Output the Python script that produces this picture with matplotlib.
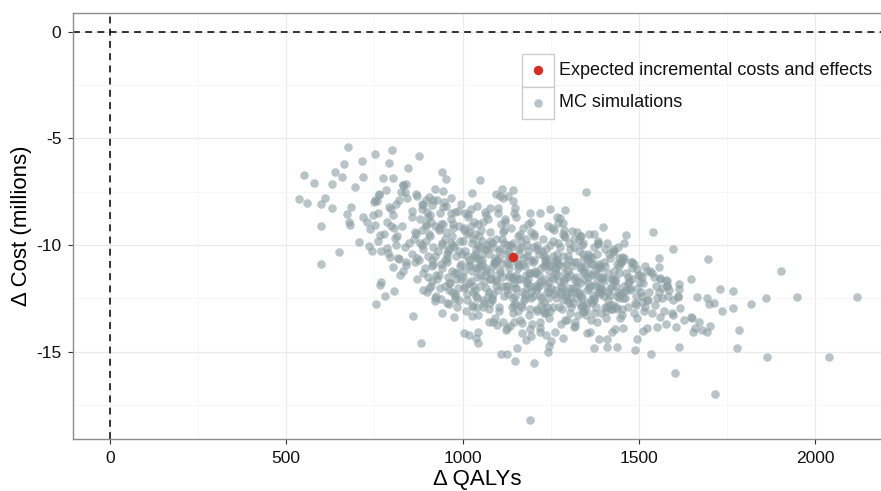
import matplotlib
matplotlib.use("Agg")
import matplotlib.pyplot as plt
from matplotlib.patches import Rectangle
from matplotlib.ticker import MultipleLocator

plt.rcParams['font.family'] = ['Liberation Sans', 'DejaVu Sans']
plt.rcParams['axes.unicode_minus'] = False

# 期望值点
expected_qaly = [1142]
expected_cost = [-10.56]

# 稀疏区域的模拟点
edge_qaly = [
    675, 752, 801, 715, 665, 792, 845, 638, 550, 659, 718, 775, 804, 578, 630, 695, 832, 877,
    536, 560, 610, 599, 631, 684, 671, 764, 757, 750, 759, 796, 599, 679, 680, 718, 730, 752,
    738, 706, 650, 600, 734, 743, 766, 785, 788, 794, 809, 821, 804, 768, 823, 840,
    756, 779, 806, 766, 859, 882,
    1192, 1204, 1150, 1127, 1110, 1155, 1043, 1038, 1005, 1018, 1043, 975, 943, 922, 939, 962,
    979, 1028, 1074, 1097, 1123, 1168, 1180, 1194, 1190, 1220, 1237, 1242, 1246, 1251, 1262,
    1146, 1168, 1114, 1125, 1210, 1231, 887, 906,
    1603, 1535, 1489, 1439, 1410, 1372, 1388, 1410, 1494, 1615, 1284, 1315, 1354, 1362, 1423,
    1433, 1456, 1511, 1524, 1551, 1578, 1606, 1627, 1653, 1660, 1296, 1343, 1381, 1447, 1494,
    1560, 1597, 1650, 1617, 1664, 1612, 1583, 1530, 1475, 1508, 1456, 1418, 1371, 1390, 1324,
    1296, 1352,
    2118, 2040, 1948, 1902, 1862, 1865, 1818, 1784, 1778, 1768, 1768, 1735, 1716, 1729, 1712,
    1700, 1693, 1702, 1693, 1678, 1697, 1648, 1647, 1671, 1598, 1539, 1558, 1556, 1579, 1579,
    1614, 1614, 1350, 1398, 1463, 1458,
    1291, 1374, 1310, 1333, 1331, 1291, 1277, 1284, 1409, 1385, 1577, 1560, 1524, 1494, 1480,
    1452, 1428, 1508, 1537, 1504,
    943, 953, 1050, 1026, 967, 922, 944, 1111, 1142, 1130, 1106, 1095, 1116, 1144, 906, 916,
    913, 889, 900, 1149, 1146, 1190, 1220, 1248, 1267, 1040, 1078, 1102, 979, 952, 1016, 1064,
    830, 841, 837, 870, 1272,
]
edge_cost = [
    -5.41, -5.75, -5.56, -6.05, -6.19, -6.16, -6.41, -6.56, -6.73, -6.80, -6.80, -6.88, -6.88, -7.09, -7.14, -7.28, -7.19, -5.81,
    -7.83, -8.05, -7.78, -8.09, -8.25, -8.22, -8.56, -7.66, -7.92, -7.97, -8.48, -8.33, -9.09, -8.94, -9.06, -8.70, -8.94, -9.06,
    -9.27, -9.87, -10.31, -10.88, -10.05, -10.28, -9.53, -10.16, -10.39, -10.55, -9.69, -10.67, -11.02, -11.72, -11.41, -10.94,
    -12.75, -12.41, -12.14, -11.87, -13.33, -14.61,
    -18.22, -15.53, -15.42, -15.10, -15.13, -14.83, -14.58, -14.38, -14.11, -14.22, -14.06, -13.39, -13.19, -12.61, -12.53, -12.78,
    -12.53, -13.31, -13.62, -13.75, -13.98, -14.11, -14.45, -14.27, -13.95, -14.06, -14.22, -15.00, -14.74, -14.48, -14.09,
    -13.62, -13.67, -13.59, -13.91, -13.10, -13.20, -12.11, -12.00,
    -16.01, -15.10, -14.94, -14.80, -14.80, -14.81, -14.41, -14.41, -14.42, -14.77, -14.37, -13.83, -14.14, -14.06, -14.06,
    -13.94, -13.88, -14.03, -13.88, -13.83, -13.72, -13.83, -13.52, -14.06, -13.91, -13.52, -13.13, -13.59, -13.44, -13.44,
    -13.36, -13.28, -13.44, -12.97, -12.42, -12.42, -12.38, -12.22, -12.11, -12.66, -12.50, -12.34, -12.34, -12.19, -12.50,
    -12.19, -12.73,
    -12.42, -15.25, -12.42, -11.20, -12.50, -15.27, -12.77, -14.00, -14.81, -12.14, -12.97, -13.08, -17.00, -12.06, -12.73,
    -12.77, -12.50, -13.80, -14.09, -13.98, -10.67, -11.61, -13.39, -13.62, -10.20, -9.40, -10.59, -11.02, -11.69, -11.92,
    -11.84, -12.08, -7.53, -9.17, -9.55, -9.92,
    -8.36, -9.50, -9.34, -9.56, -9.77, -9.61, -8.75, -8.98, -9.89, -9.97, -11.64, -11.56, -11.22, -11.14, -10.81,
    -10.55, -10.34, -11.49, -11.33, -11.72,
    -6.59, -6.91, -6.95, -7.55, -7.78, -7.38, -7.47, -7.39, -7.42, -7.70, -7.70, -7.62, -7.81, -7.94, -7.74, -7.89,
    -8.12, -8.12, -8.44, -8.28, -8.51, -8.50, -8.51, -8.31, -8.67, -8.17, -8.25, -8.28, -8.44, -8.16, -8.55, -8.47,
    -7.19, -7.16, -7.50, -7.69, -8.95,
]

# 密集核心区域的模拟点（估计）
core_qaly = [
    745, 782, 760, 791, 752, 770, 798, 786, 763, 776,
    805, 842, 818, 856, 831, 811, 849, 826, 838, 815,
    858, 884, 866, 897, 872, 889, 861, 879, 893, 869,
    903, 886, 921, 912, 895, 927, 908, 917, 899, 924,
    905, 931, 946, 914, 938, 922, 943, 911, 935, 949,
    952, 934, 968, 957, 976, 941, 963, 972, 948, 979,
    955, 986, 962, 994, 971, 999, 983, 958, 990, 967,
    973, 1004, 985, 1013, 996, 1019, 978, 1008, 991, 1016,
    1002, 1027, 1011, 1036, 1021, 995, 1031, 1007, 1039, 1024,
    1012, 1044, 1026, 1049, 1033, 1017, 1041, 1029, 1005, 1047,
    1053, 1037, 1062, 1045, 1069, 1024, 1058, 1066, 1050, 1034,
    1042, 1078, 1055, 1086, 1071, 1060, 1089, 1048, 1081, 1074,
    1063, 1096, 1077, 1104, 1085, 1109, 1068, 1092, 1100, 1073,
    1083, 1112, 1094, 1121, 1103, 1128, 1087, 1116, 1098, 1125,
    1105, 1138, 1117, 1146, 1127, 1111, 1142, 1133, 1120, 1149,
    1123, 1157, 1136, 1164, 1143, 1169, 1130, 1152, 1160, 1139,
    1144, 1176, 1155, 1183, 1163, 1189, 1148, 1172, 1180, 1158,
    1162, 1194, 1173, 1203, 1185, 1208, 1167, 1198, 1178, 1191,
    1184, 1216, 1195, 1224, 1206, 1229, 1188, 1212, 1200, 1221,
    1204, 1238, 1217, 1246, 1226, 1210, 1242, 1233, 1219, 1249,
    1223, 1257, 1236, 1264, 1245, 1269, 1230, 1252, 1260, 1240,
    1243, 1276, 1255, 1284, 1265, 1289, 1248, 1272, 1280, 1259,
    1262, 1295, 1274, 1303, 1285, 1309, 1268, 1291, 1299, 1279,
    1283, 1316, 1294, 1324, 1305, 1329, 1288, 1312, 1320, 1300,
    1304, 1337, 1315, 1345, 1326, 1349, 1308, 1333, 1341, 1319,
    1323, 1356, 1335, 1364, 1344, 1369, 1328, 1352, 1360, 1339,
    1343, 1376, 1355, 1384, 1365, 1389, 1348, 1372, 1380, 1359,
    1362, 1396, 1374, 1404, 1385, 1409, 1367, 1392, 1400, 1378,
    1383, 1417, 1394, 1425, 1406, 1429, 1388, 1412, 1420, 1399,
    1404, 1437, 1415, 1445, 1426, 1449, 1408, 1433, 1441, 1419,
    1423, 1456, 1435, 1464, 1444, 1469, 1428, 1452, 1460, 1439,
    1446, 1481, 1458, 1490, 1468, 1497, 1451, 1475, 1486, 1463,
    1473, 1508, 1485, 1519, 1496, 1527, 1479, 1503, 1514, 1491,
    1506, 1542, 1518, 1553, 1531, 1566, 1512, 1537, 1548, 1524,
    1545, 1587, 1561, 1598, 1572, 1611, 1556, 1580, 1593, 1566,
    1008, 1063, 1031, 1087, 1019, 1074, 1046, 1095, 1055, 1038,
    1106, 1161, 1129, 1184, 1117, 1172, 1144, 1193, 1153, 1136,
    1208, 1263, 1231, 1286, 1219, 1274, 1246, 1295, 1255, 1238,
    1306, 1361, 1329, 1384, 1317, 1372, 1344, 1393, 1353, 1336,
    957, 1012, 980, 1036, 968, 1023, 995, 1044, 1004, 987,
    1056, 1111, 1079, 1135, 1067, 1122, 1094, 1143, 1103, 1086,
    1156, 1211, 1179, 1235, 1167, 1222, 1194, 1243, 1203, 1186,
    1256, 1311, 1279, 1335, 1267, 1322, 1294, 1343, 1303, 1286,
    1357, 1412, 1380, 1436, 1368, 1423, 1395, 1444, 1404, 1387,
    885, 940, 908, 963, 896, 951, 923, 971, 932, 914,
    864, 917, 889, 944, 872, 929, 901, 956, 880, 937,
    964, 1018, 989, 1045, 972, 1029, 1001, 1057, 982, 1037,
    1066, 1119, 1091, 1147, 1074, 1131, 1103, 1158, 1083, 1139,
    1165, 1218, 1190, 1246, 1173, 1230, 1202, 1257, 1182, 1238,
    1264, 1317, 1289, 1345, 1272, 1329, 1301, 1356, 1281, 1337,
    1364, 1417, 1389, 1445, 1372, 1429, 1401, 1456, 1381, 1437,
    903, 958, 926, 981, 914, 969, 941, 992, 950, 933,
    1003, 1058, 1026, 1081, 1014, 1069, 1041, 1092, 1050, 1033,
    1102, 1157, 1125, 1180, 1113, 1168, 1140, 1191, 1149, 1132,
    1201, 1256, 1224, 1279, 1212, 1267, 1239, 1290, 1248, 1231,
    1302, 1357, 1325, 1380, 1313, 1368, 1340, 1391, 1349, 1332,
    1402, 1457, 1425, 1480, 1413, 1468, 1440, 1491, 1449, 1432,
    803, 856, 828, 884, 811, 868, 840, 895, 819, 876,
    1054, 1161, 1107, 1218, 1078, 1185, 1131, 1240, 1092, 1203,
    1151, 1263, 1206, 1319, 1177, 1288, 1233, 1342, 1195, 1306,
]
core_cost = [
    -8.6, -7.4, -9.8, -8.2, -7.9, -10.3, -9.1, -8.9, -7.6, -9.5,
    -9.2, -7.8, -10.6, -8.7, -11.2, -8.1, -9.9, -7.5, -10.1, -9.6,
    -8.4, -9.3, -10.8, -7.9, -11.6, -10.2, -9.7, -8.8, -11.1, -7.6,
    -10.5, -8.3, -9.1, -11.9, -9.8, -7.9, -8.6, -10.9, -12.2, -11.4,
    -9.5, -10.3, -8.2, -11.7, -9.0, -12.5, -11.1, -8.9, -12.0, -10.7,
    -9.4, -11.4, -8.5, -12.7, -10.1, -9.9, -11.8, -9.2, -8.0, -12.3,
    -10.8, -8.4, -12.1, -11.0, -9.6, -10.4, -12.9, -11.5, -9.1, -8.8,
    -10.0, -9.3, -11.3, -12.6, -8.1, -10.7, -12.4, -11.9, -10.3, -8.7,
    -9.8, -11.2, -13.1, -9.5, -10.9, -11.6, -12.2, -8.5, -10.2, -8.3,
    -10.5, -9.0, -12.8, -11.4, -8.9, -11.8, -12.5, -9.7, -12.0, -10.1,
    -9.3, -10.6, -11.7, -13.3, -10.0, -9.1, -12.9, -8.6, -11.0, -12.1,
    -11.5, -9.8, -10.4, -12.3, -8.8, -12.7, -10.8, -9.6, -11.3, -13.0,
    -10.2, -11.9, -9.4, -10.6, -12.6, -9.0, -11.1, -13.4, -8.5, -12.4,
    -9.9, -10.9, -11.6, -8.8, -12.9, -10.3, -13.6, -9.4, -10.7, -12.1,
    -11.3, -9.2, -12.4, -11.8, -10.0, -9.7, -13.2, -10.9, -8.9, -12.7,
    -10.4, -11.1, -13.8, -9.5, -11.5, -12.2, -11.9, -8.7, -10.2, -12.9,
    -9.9, -12.5, -10.8, -10.0, -13.5, -11.3, -12.0, -9.2, -11.7, -13.1,
    -11.6, -9.4, -12.6, -10.7, -9.0, -12.1, -10.1, -13.7, -11.0, -11.9,
    -10.5, -11.4, -8.9, -12.8, -11.2, -9.7, -13.3, -10.2, -12.4, -13.9,
    -9.6, -10.8, -11.9, -12.2, -10.3, -13.0, -9.1, -11.6, -13.6, -10.0,
    -12.5, -9.8, -10.6, -11.3, -13.4, -10.4, -11.0, -12.0, -9.3, -12.9,
    -11.8, -10.1, -9.2, -12.6, -11.1, -9.6, -13.1, -10.9, -13.7, -12.3,
    -10.7, -11.5, -12.9, -9.9, -9.5, -12.2, -11.4, -13.5, -10.5, -11.9,
    -12.0, -9.7, -10.9, -11.7, -13.2, -10.3, -9.3, -12.7, -13.8, -11.2,
    -10.2, -12.4, -11.6, -10.6, -9.4, -13.0, -12.9, -11.1, -9.9, -13.6,
    -11.9, -10.4, -9.6, -12.6, -11.3, -10.9, -13.3, -12.1, -9.5, -10.0,
    -12.8, -11.2, -10.7, -9.8, -13.5, -12.3, -11.0, -10.1, -11.8, -12.0,
    -10.5, -11.6, -12.5, -10.2, -9.9, -12.9, -11.4, -13.2, -10.8, -11.9,
    -12.2, -10.6, -11.1, -11.9, -13.4, -10.3, -10.9, -12.6, -13.0, -11.5,
    -11.0, -12.4, -10.4, -11.3, -12.8, -10.8, -13.1, -11.7, -10.1, -12.0,
    -11.6, -10.7, -12.9, -12.1, -11.0, -11.5, -10.2, -13.3, -12.5, -10.9,
    -12.3, -11.1, -10.6, -12.7, -11.8, -11.4, -13.0, -12.0, -10.9, -11.3,
    -11.7, -12.4, -13.2, -11.0, -12.0, -12.6, -10.8, -11.4, -13.1, -12.8,
    -12.2, -11.5, -12.9, -12.5, -11.2, -12.0, -11.8, -13.2, -11.9, -12.6,
    -12.8, -12.1, -11.6, -12.6, -13.1, -12.4, -12.2, -11.9, -13.2, -12.5,
    -10.3, -11.4, -11.9, -10.1, -11.0, -12.2, -10.7, -11.7, -9.8, -12.4,
    -11.2, -10.4, -12.3, -11.8, -9.9, -10.9, -11.6, -12.5, -12.0, -10.6,
    -11.3, -12.1, -10.5, -11.0, -12.4, -11.7, -10.9, -12.6, -11.5, -10.2,
    -11.4, -11.9, -12.3, -11.1, -10.8, -12.6, -11.6, -12.0, -10.6, -12.9,
    -10.6, -9.5, -11.3, -10.4, -9.9, -11.7, -10.9, -11.1, -9.2, -12.0,
    -10.7, -11.5, -12.7, -10.0, -11.2, -11.9, -9.7, -12.5, -10.3, -11.0,
    -10.9, -12.0, -11.4, -10.7, -12.8, -11.1, -12.2, -12.5, -10.1, -11.6,
    -11.6, -11.0, -12.2, -12.8, -10.8, -11.5, -12.4, -11.2, -12.0, -10.5,
    -11.8, -12.2, -11.4, -11.9, -12.7, -11.6, -12.1, -12.5, -12.9, -11.0,
    -10.0, -10.9, -9.6, -10.2, -9.1, -9.7, -10.5, -11.2, -9.3, -11.0,
    -9.4, -10.1, -11.3, -9.0, -10.6, -11.6, -8.7, -10.4, -9.9, -8.5,
    -11.8, -9.4, -12.6, -10.0, -9.0, -12.9, -11.5, -8.9, -10.5, -11.1,
    -12.0, -9.3, -10.9, -12.8, -10.4, -11.4, -13.1, -9.6, -12.5, -10.1,
    -9.8, -11.8, -13.0, -11.2, -10.6, -12.7, -9.5, -10.5, -12.0, -13.2,
    -12.5, -10.1, -11.7, -13.1, -9.9, -12.2, -10.7, -11.5, -13.0, -11.0,
    -10.9, -12.8, -12.0, -10.6, -13.2, -11.2, -11.7, -12.2, -10.4, -13.0,
    -11.5, -10.3, -12.4, -11.6, -10.7, -12.2, -10.0, -9.8, -11.9, -9.2,
    -11.2, -12.6, -9.9, -11.6, -12.3, -10.2, -12.9, -10.8, -11.9, -10.5,
    -12.1, -11.6, -10.8, -9.7, -11.9, -12.9, -10.5, -11.3, -12.4, -11.5,
    -10.8, -12.9, -11.7, -12.3, -10.0, -10.7, -12.2, -11.3, -11.0, -13.1,
    -12.7, -11.3, -10.8, -12.9, -12.0, -10.6, -12.5, -11.5, -13.3, -11.8,
    -12.4, -11.9, -13.0, -11.6, -11.3, -12.9, -12.2, -12.4, -10.8, -11.6,
    -8.6, -10.4, -9.1, -8.1, -10.0, -9.5, -10.8, -9.0, -7.9, -10.7,
    -10.9, -11.0, -10.2, -10.4, -11.6, -10.3, -11.1, -11.9, -10.6, -11.3,
    -11.4, -11.1, -11.9, -12.2, -12.3, -11.6, -10.9, -10.4, -10.7, -12.5,
]

x_ticks = [0, 500, 1000, 1500, 2000]
y_ticks = [0, -5, -10, -15]
legend_labels = ["Expected incremental costs and effects", "MC simulations"]

sim_color = '#8A9DA2'
exp_color = '#D22F24'
W, H = 881, 491

fig = plt.figure(figsize=(W / 100, H / 100), dpi=100)
ax = fig.add_axes([73.3 / W, 1 - 439.3 / H, 1 - 73.3 / W, (439.3 - 12.7) / H])

ax.set_xlim(-104, 2187)
ax.set_ylim(-19.11, 0.89)

ax.xaxis.set_major_locator(MultipleLocator(500))
ax.xaxis.set_minor_locator(MultipleLocator(250))
ax.yaxis.set_major_locator(MultipleLocator(5))
ax.yaxis.set_minor_locator(MultipleLocator(2.5))
ax.set_xticks(x_ticks)
ax.set_yticks(y_ticks)
ax.grid(which='major', color='#EBEBEB', linewidth=0.9)
ax.grid(which='minor', color='#F6F6F6', linewidth=0.7)
ax.set_axisbelow(True)

for side in ['left', 'bottom', 'top']:
    ax.spines[side].set_color('#8C8C8C')
    ax.spines[side].set_linewidth(1.0)
ax.spines['right'].set_visible(False)

ax.tick_params(which='major', direction='out', length=3.5, width=0.8, color='#333333',
               labelsize=12.5, labelcolor='#111111', pad=5)
ax.tick_params(which='minor', length=0)

ax.axhline(0, color='black', linestyle=(0, (4.5, 3.5)), linewidth=1.1, zorder=1.5)
ax.axvline(0, color='black', linestyle=(0, (4.5, 3.5)), linewidth=1.1, zorder=1.5)

ax.scatter(core_qaly, core_cost, s=38, color=sim_color, alpha=0.6, linewidths=0, zorder=2)
ax.scatter(edge_qaly, edge_cost, s=38, color=sim_color, alpha=0.6, linewidths=0, zorder=2)
ax.scatter(expected_qaly, expected_cost, s=46, color=exp_color, linewidths=0, zorder=3)

ax.set_xlabel("Δ QALYs", fontsize=16, labelpad=2)
ax.set_ylabel("Δ Cost (millions)", fontsize=16, labelpad=3)


def fx(px):
    return px / W


def fy(py):
    return 1 - py / H


# 图例（手工绘制，仿 ggplot 样式）
key_left, key_size = 521.7, 32.6
key_tops = [54.0, 86.6]
key_colors = [exp_color, sim_color]
key_alpha = [1.0, 0.6]
key_sizes = [46, 38]
for top, col, alp, sz, lab in zip(key_tops, key_colors, key_alpha, key_sizes, legend_labels):
    fig.add_artist(Rectangle((fx(key_left), fy(top + key_size)), key_size / W, key_size / H,
                             transform=fig.transFigure, facecolor='white',
                             edgecolor='#CCCCCC', linewidth=1.0, zorder=4))
    cx, cy = fx(key_left + key_size / 2), fy(top + key_size / 2)
    fig.add_artist(plt.Line2D([cx], [cy], marker='o', markersize=(sz ** 0.5),
                              markerfacecolor=col, markeredgewidth=0, alpha=alp,
                              linestyle='none', transform=fig.transFigure, zorder=5))
    fig.text(fx(559.3), cy, lab, fontsize=13, va='center', ha='left', color='#111111', zorder=5)

fig.savefig("out.png", dpi=100)
